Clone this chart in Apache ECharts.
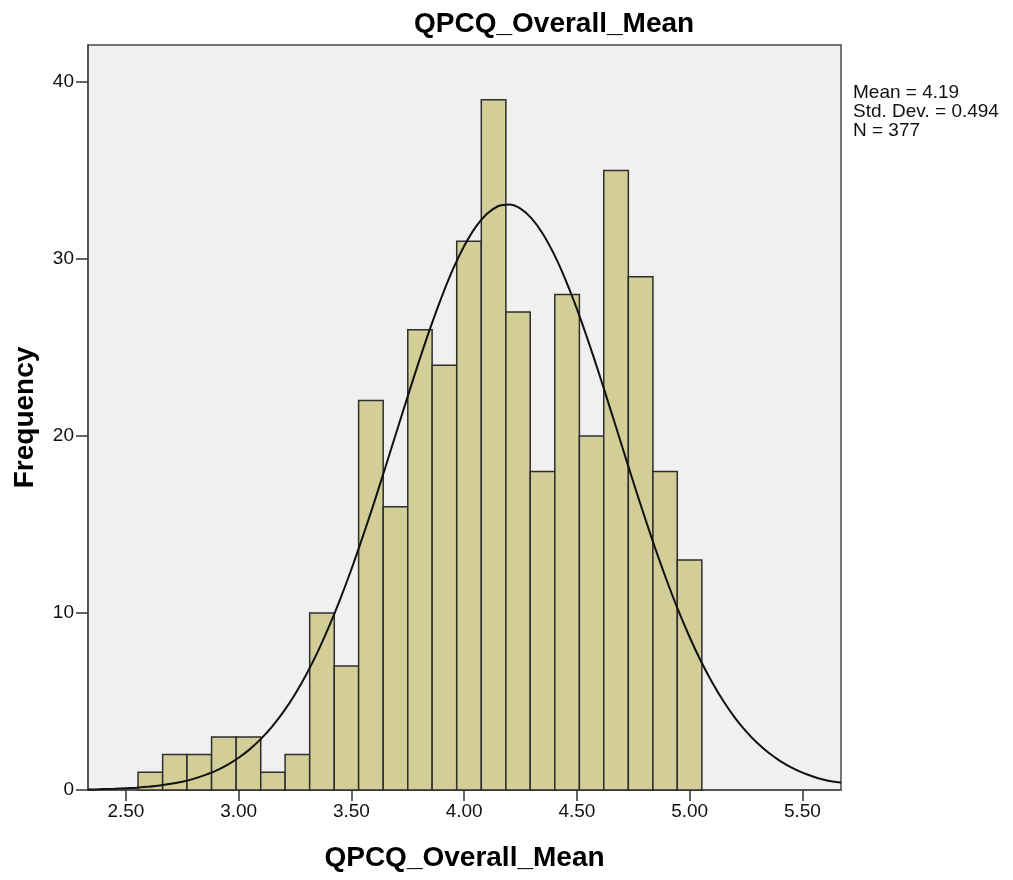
<!DOCTYPE html>
<html>
<head>
<meta charset="utf-8">
<script src="https://cdn.jsdelivr.net/npm/echarts@6/dist/echarts.min.js"></script>
<style>
html,body{margin:0;padding:0;background:#fff;}
#main{width:1013px;height:880px;}
</style>
</head>
<body>
<div id="main"></div>
<script>
// Histogram bin edges
var binEdges = [2.554, 2.663, 2.771, 2.880, 2.989, 3.098, 3.206, 3.315, 3.424, 3.532, 3.641, 3.750,
                3.858, 3.967, 4.076, 4.185, 4.293, 4.402, 4.511, 4.619, 4.728, 4.837, 4.945, 5.054];
// Frequencies per bin
var frequencies = [1, 2, 2, 3, 3, 1, 2, 10, 7, 22, 16, 26, 24, 31, 39, 27, 18, 28, 20, 35, 29, 18, 13];
// Normal curve points
var curveX = [2.332, 2.35, 2.4, 2.45, 2.5, 2.55, 2.6, 2.65, 2.7, 2.75, 2.8, 2.85, 2.9, 2.95, 3.0, 3.05, 3.1, 3.15,
              3.2, 3.25, 3.3, 3.35, 3.4, 3.45, 3.5, 3.55, 3.6, 3.65, 3.7, 3.75, 3.8, 3.85, 3.9, 3.95, 4.0,
              4.05, 4.1, 4.15, 4.2, 4.25, 4.3, 4.35, 4.4, 4.45, 4.5, 4.55, 4.6, 4.65, 4.7, 4.75, 4.8, 4.85,
              4.9, 4.95, 5.0, 5.05, 5.1, 5.15, 5.2, 5.25, 5.3, 5.35, 5.4, 5.45, 5.5, 5.55, 5.6, 5.65, 5.671];
var curveY = [0.03, 0.03, 0.05, 0.07, 0.10, 0.13, 0.19, 0.26, 0.35, 0.47, 0.63, 0.84, 1.09, 1.42, 1.82, 2.31, 2.90, 3.61,
              4.44, 5.41, 6.53, 7.79, 9.21, 10.77, 12.47, 14.30, 16.21, 18.21, 20.23, 22.25, 24.23, 26.11, 27.85, 29.41, 30.73,
              31.79, 32.54, 32.98, 33.08, 32.85, 32.28, 31.40, 30.23, 28.81, 27.18, 25.37, 23.45, 21.45, 19.42, 17.40, 15.44, 13.55,
              11.78, 10.13, 8.63, 7.27, 6.07, 5.01, 4.09, 3.31, 2.65, 2.10, 1.65, 1.28, 0.98, 0.75, 0.56, 0.45, 0.43];
var xTicks = [2.5, 3.0, 3.5, 4.0, 4.5, 5.0, 5.5];
var yTicks = [0, 10, 20, 30, 40];
var titleText = 'QPCQ_Overall_Mean';
var xName = 'QPCQ_Overall_Mean';
var yName = 'Frequency';
var statsLines = ['Mean = 4.19', 'Std. Dev. = 0.494', 'N = 377'];

var FONT = "'Liberation Sans', Arial, sans-serif";
var chart = echarts.init(document.getElementById('main'), null, {renderer: 'canvas'});

var barData = frequencies.map(function (f, i) { return [binEdges[i], binEdges[i + 1], f]; });
var lineData = curveX.map(function (x, i) { return [x, curveY[i]]; });

chart.setOption({
  animation: false,
  backgroundColor: '#ffffff',
  title: {
    text: titleText,
    left: 409,
    top: 5,
    textStyle: {fontFamily: FONT, fontSize: 28, fontWeight: 'bold', color: '#000'}
  },
  grid: {
    left: 88, right: 172, top: 45, bottom: 90,
    show: true, backgroundColor: '#f0f0f0', borderColor: '#4a4a4a', borderWidth: 1.5
  },
  xAxis: {
    type: 'value',
    min: 2.332, max: 5.671,
    name: xName,
    nameLocation: 'middle',
    nameGap: 54,
    nameTextStyle: {fontFamily: FONT, fontSize: 28, fontWeight: 'bold', color: '#000'},
    splitLine: {show: false},
    axisLine: {show: true, onZero: false, lineStyle: {color: '#4a4a4a', width: 1.5}},
    axisTick: {show: true, length: 11, customValues: xTicks, lineStyle: {color: '#333', width: 1.5}},
    axisLabel: {
      customValues: xTicks, margin: 12,
      fontFamily: FONT, fontSize: 19, color: '#111',
      formatter: function (v) { return v.toFixed(2); }
    }
  },
  yAxis: {
    type: 'value',
    min: 0, max: 42.09,
    name: yName,
    nameLocation: 'middle',
    nameGap: 49,
    nameRotate: 90,
    nameTextStyle: {fontFamily: FONT, fontSize: 28, fontWeight: 'bold', color: '#000'},
    splitLine: {show: false},
    axisLine: {show: true, lineStyle: {color: '#4a4a4a', width: 1.5}},
    axisTick: {show: true, length: 12, customValues: yTicks, lineStyle: {color: '#333', width: 1.5}},
    axisLabel: {customValues: yTicks, margin: 14, fontFamily: FONT, fontSize: 19, color: '#111'}
  },
  graphic: [{
    type: 'text',
    left: 853, top: 83,
    style: {
      text: statsLines.join('\n'),
      font: '19px ' + FONT,
      lineHeight: 19,
      fill: '#111'
    }
  }],
  series: [{
    type: 'custom',
    renderItem: function (params, api) {
      var p0 = api.coord([api.value(0), 0]);
      var p1 = api.coord([api.value(1), api.value(2)]);
      return {
        type: 'rect',
        shape: {x: p0[0], y: p1[1], width: p1[0] - p0[0], height: p0[1] - p1[1]},
        style: {fill: '#d3ce97', stroke: '#2e2e2e', lineWidth: 1.5}
      };
    },
    encode: {x: [0, 1], y: 2},
    data: barData,
    z: 2
  }, {
    type: 'line',
    data: lineData,
    smooth: 0.3,
    showSymbol: false,
    lineStyle: {color: '#111', width: 2},
    z: 3
  }]
});
</script>
</body>
</html>
